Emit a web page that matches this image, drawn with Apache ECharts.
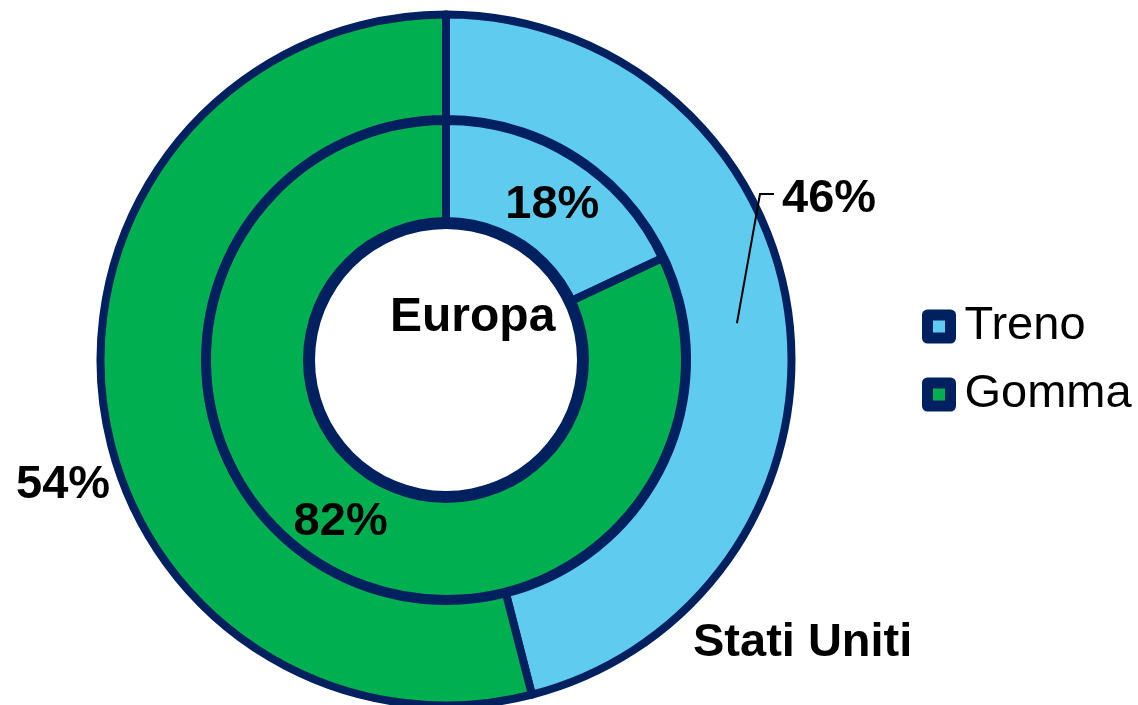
<!DOCTYPE html>
<html>
<head>
<meta charset="utf-8">
<script src="https://cdn.jsdelivr.net/npm/echarts@6/dist/echarts.min.js"></script>
<style>
html,body{margin:0;padding:0;background:#fff;}
#chart{width:1138px;height:705px;}
</style>
</head>
<body>
<div id="chart"></div>
<script>
const categories = ['Treno', 'Gomma'];
const seriesNames = ['Europa', 'Stati Uniti'];
const europaValues = [18, 82];
const statiUnitiValues = [46, 54];
const colors = ['#5FCBEF', '#00B050'];
const navy = '#002060';

const CX = 446, CY = 360;
const R_OUT = [241, 345.5];
const R_IN = [137, 239];
const font = '"Liberation Sans", Arial, sans-serif';

function midAngle(values, i) {
  const total = values.reduce((a, b) => a + b, 0);
  let cum = 0;
  for (let k = 0; k < i; k++) cum += values[k];
  return (90 - 360 * (cum + values[i] / 2) / total) * Math.PI / 180;
}

const aT = midAngle(statiUnitiValues, 0);
const rMid = (R_OUT[0] + R_OUT[1]) / 2;
const leaderPts = [
  [CX + rMid * Math.cos(aT), CY - rMid * Math.sin(aT)],
  [760, 194],
  [774, 194]
];

const chart = echarts.init(document.getElementById('chart'));

const labelStyle = {fontFamily: font, fontSize: 47, fontWeight: 'bold', color: '#000'};

chart.setOption({
  backgroundColor: '#fff',
  animation: false,
  color: colors,
  legend: {
    data: categories,
    orient: 'vertical',
    left: 917,
    top: 298,
    itemWidth: 23,
    itemHeight: 23,
    itemGap: 21,
    icon: 'rect',
    itemStyle: {borderColor: navy, borderWidth: 11, borderJoin: 'round'},
    textStyle: {fontFamily: font, fontSize: 47, color: '#000', lineHeight: 46, padding: [0, 0, 0, 9]}
  },
  graphic: [
    {type: 'text', left: 473 - 83, top: 321 - 27, z: 100,
     style: {text: seriesNames[0], font: 'bold 48px ' + font, fill: '#000'}},
    {type: 'text', left: 804 - 111, top: 647 - 27, z: 100,
     style: {text: seriesNames[1], font: 'bold 47px ' + font, fill: '#000'}},
    {type: 'polyline', z: 100, silent: true,
     shape: {points: leaderPts},
     style: {stroke: '#000', lineWidth: 2, fill: null}}
  ],
  series: [
    {
      name: seriesNames[1],
      type: 'pie',
      center: [CX, CY],
      radius: R_OUT,
      startAngle: 90,
      clockwise: true,
      avoidLabelOverlap: false,
      itemStyle: {borderColor: navy, borderWidth: 8},
      emphasis: {disabled: true},
      label: Object.assign({show: true, position: 'outside', formatter: '{d}%'}, labelStyle),
      labelLine: {show: false},
      labelLayout: function (p) {
        if (p.dataIndex === 0) {
          return {x: 782, y: 199, align: 'left', verticalAlign: 'middle'};
        }
        return {x: 16, y: 485, align: 'left', verticalAlign: 'middle'};
      },
      data: categories.map((c, i) => ({name: c, value: statiUnitiValues[i]}))
    },
    {
      name: seriesNames[0],
      type: 'pie',
      center: [CX, CY],
      radius: R_IN,
      startAngle: 90,
      clockwise: true,
      itemStyle: {borderColor: navy, borderWidth: 8},
      emphasis: {disabled: true},
      label: Object.assign({show: true, position: 'inside', formatter: '{d}%'}, labelStyle),
      labelLine: {show: false},
      labelLayout: function (p) {
        if (p.dataIndex === 0) return {dx: 4, dy: 6};
        return {dx: -3, dy: 1};
      },
      data: categories.map((c, i) => ({name: c, value: europaValues[i]}))
    },
    {
      name: 'bordo',
      type: 'pie',
      center: [CX, CY],
      radius: [131, 143],
      silent: true,
      z: 3,
      itemStyle: {color: navy, borderWidth: 0},
      label: {show: false},
      labelLine: {show: false},
      emphasis: {disabled: true},
      tooltip: {show: false},
      data: [{name: '', value: 1}]
    }
  ]
});
</script>
</body>
</html>
